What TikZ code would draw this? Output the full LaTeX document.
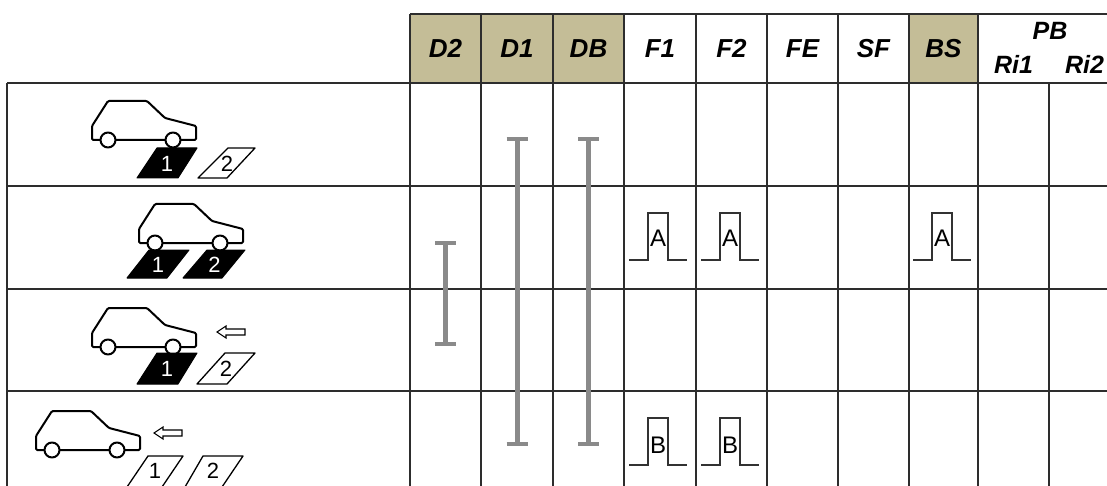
\documentclass[tikz,border=0pt]{standalone}
\usepackage{fontspec}
\setmainfont{Liberation Sans}
\usetikzlibrary{calc}
\definecolor{tanfill}{RGB}{196,189,151}
\definecolor{gridline}{RGB}{45,45,45}
\definecolor{barcol}{RGB}{138,138,138}
\definecolor{pulsecol}{RGB}{50,50,50}

\newcommand\IBar[3]{% name, top point, bottom point
  \coordinate (#1t) at #2;
  \coordinate (#1b) at #3;
  \draw[ibar] (#1t) -- (#1b);
  \draw[ibarcap] ($(#1t)+(-10.5,0)$) -- ($(#1t)+(10.5,0)$);
  \draw[ibarcap] ($(#1b)+(-10.5,0)$) -- ($(#1b)+(10.5,0)$);
}

\begin{document}
\begin{tikzpicture}[x=1pt,y=-1pt,
  grid/.style={draw=gridline, line width=1.4pt},
  hcell/.style={minimum width=71pt, minimum height=69pt, inner sep=0pt,
    font=\fontsize{26}{30}\selectfont\bfseries\itshape},
  htext/.style={inner sep=0pt, font=\fontsize{25}{29}\selectfont\bfseries\itshape},
  ibar/.style={draw=barcol, line width=5pt},
  ibarcap/.style={draw=barcol, line width=4pt},
  carline/.style={draw=black, line width=2pt, line join=round, rounded corners=1.2pt},
  padblack/.style={fill=black, draw=black, line width=1pt, line join=round},
  padwhite/.style={fill=white, draw=black, line width=1.3pt, line join=round},
  padnum/.style={inner sep=0pt, font=\fontsize{22}{26}\selectfont},
  pulse/.style={draw=pulsecol, line width=1.5pt},
  pulsetext/.style={inner sep=0pt, font=\fontsize{24}{28}\selectfont},
  harrow/.style={draw=black, line width=1.1pt, fill=white, line join=miter},
  car/.pic={
    \draw[carline] (0,0) -- (0,-14) -- (16,-39) -- (55,-39) -- (73,-22)
      -- (104,-14) -- (104,0) -- cycle;
    \draw[carline, fill=white] (16,0) circle[radius=7.5pt];
    \draw[carline, fill=white] (81,0) circle[radius=7.5pt];
  },
  leftarrow/.pic={
    \draw[harrow] (0,0) -- (9,-6) -- (9,-3) -- (28,-3) -- (28,3) -- (9,3)
      -- (9,6) -- cycle;
  },
  pulseshape/.pic={
    \draw[pulse] (0,0) -- (19,0) -- (19,-47) -- (39,-47) -- (39,0) -- (58,0);
  }
]
\clip (0,0) rectangle (1107,486);
\fill[white] (0,0) rectangle (1107,486);

% header cells
\node[hcell, fill=tanfill] (hD2) at (445.5,48.5) {D2};
\node[hcell, fill=tanfill] (hD1) at (517,48.5) {D1};
\node[hcell, fill=tanfill] (hDB) at (588.5,48.5) {DB};
\node[hcell] (hF1) at (660,48.5) {F1};
\node[hcell] (hF2) at (731.5,48.5) {F2};
\node[hcell] (hFE) at (802.5,48.5) {FE};
\node[hcell] (hSF) at (873.5,48.5) {SF};
\node[hcell, fill=tanfill] (hBS) at (943.5,48.5) {BS};
\node[htext] (hPB) at (1050,31) {PB};
\node[htext] (hRi1) at (1013.5,64) {Ri1};
\node[htext] (hRi2) at (1084.5,64) {Ri2};

% table rules
\draw[grid] (410,14) -- (1120,14);
\foreach \y in {83,186,289,391} \draw[grid] (7,\y) -- (1120,\y);
\foreach \x in {410,481,553,624,696,767,838,909,978} \draw[grid] (\x,14) -- (\x,490);
\draw[grid] (1049,83) -- (1049,490);
\draw[grid] (7,83) -- (7,490);

% row 1: car on pad 1
\pic at (92,140) {car};
\draw[padblack] (137,178) -- (178,178) -- (197,148) -- (157,148) -- cycle;
\draw[padwhite] (198,178) -- (227,178) -- (255,148) -- (228,148) -- cycle;
\node[padnum, text=white] (r1p1) at (167,163.5) {1};
\node[padnum] (r1p2) at (227,163.5) {2};

% row 2: car on both pads
\pic at (139,243) {car};
\draw[padblack] (127,278) -- (167,278) -- (189,250) -- (149,250) -- cycle;
\draw[padblack] (183,278) -- (222,278) -- (245,250) -- (207,250) -- cycle;
\node[padnum, text=white] (r2p1) at (158,264.5) {1};
\node[padnum, text=white] (r2p2) at (214.5,264.5) {2};

% row 3: car reversing, on pad 1
\pic at (92,347) {car};
\draw[padblack] (137,384) -- (178,384) -- (197,353) -- (157,353) -- cycle;
\draw[padwhite] (197,384) -- (227,384) -- (255,353) -- (225,353) -- cycle;
\node[padnum, text=white] (r3p1) at (167,369) {1};
\node[padnum] (r3p2) at (226,369) {2};
\pic at (217,332) {leftarrow};

% row 4: car reversing, off the pads
\pic at (36,450) {car};
\draw[padwhite] (127,487) -- (162,487) -- (183,456) -- (148,456) -- cycle;
\draw[padwhite] (185,487) -- (222,487) -- (243,456) -- (203,456) -- cycle;
\node[padnum] (r4p1) at (155,471) {1};
\node[padnum] (r4p2) at (213,471) {2};
\pic at (154,433) {leftarrow};

% duration bars
\IBar{d2}{(445.5,243)}{(445.5,344)}
\IBar{d1}{(517,139)}{(517,444)}
\IBar{db}{(588.5,139)}{(588.5,444)}

% pulses
\pic at (629,260) {pulseshape};
\node[pulsetext] (pa1) at (658,238) {A};
\pic at (701,260) {pulseshape};
\node[pulsetext] (pa2) at (730,238) {A};
\pic at (913,260) {pulseshape};
\node[pulsetext] (pa3) at (942,238) {A};
\pic at (629,465) {pulseshape};
\node[pulsetext] (pb1) at (658,445) {B};
\pic at (701,465) {pulseshape};
\node[pulsetext] (pb2) at (730,445) {B};
\end{tikzpicture}
\end{document}
